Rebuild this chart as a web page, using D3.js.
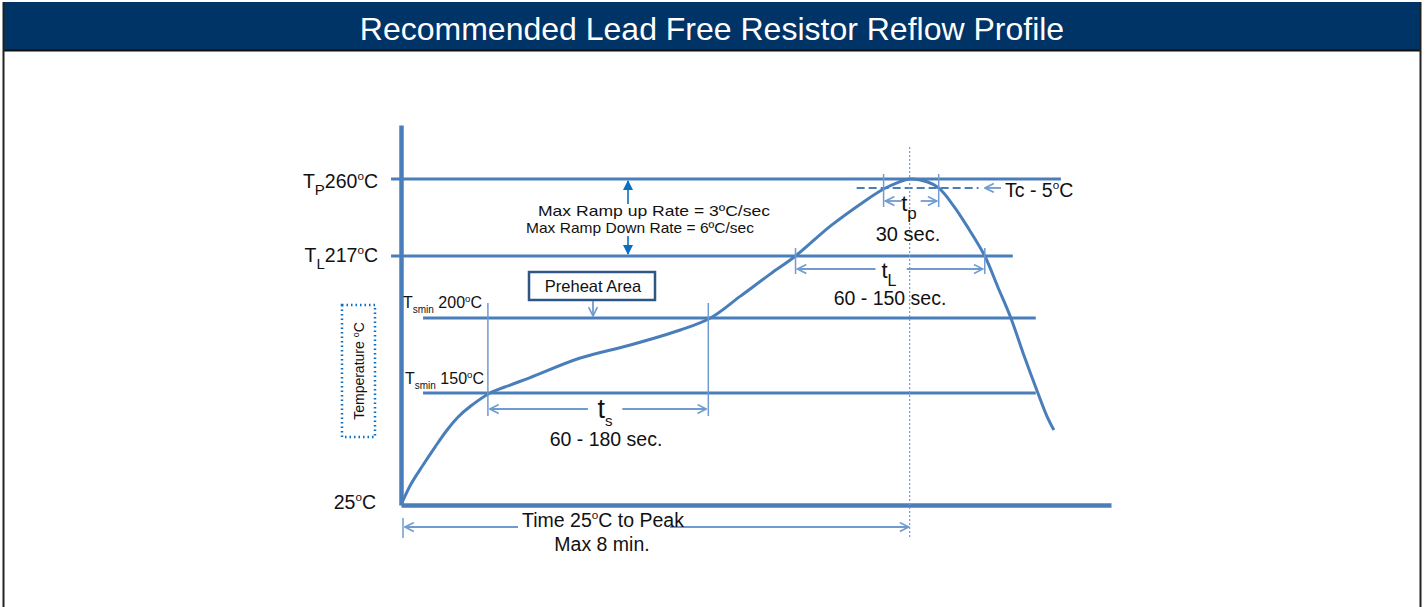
<!DOCTYPE html>
<html>
<head>
<meta charset="utf-8">
<script src="https://cdn.jsdelivr.net/npm/d3@7"></script>
<style>
  body { margin: 0; background: #fff; }
  svg { display: block; font-family: "Liberation Sans", Arial, sans-serif; }
</style>
</head>
<body>
<svg width="1425" height="607"></svg>
<script>
// reflow profile, time in seconds, temperature in °C (schematic)
const profileTime = [0, 9.45, 20.8, 32.1, 43.5, 53.9, 65.2, 84.1, 103, 121.9, 169.1, 216.4, 263.6, 292, 320.3, 348.7, 372.3, 405.4, 436.5, 455.4, 468.7, 480, 497, 507.4, 521.6, 535.8, 550.9, 563.2, 575.5, 587.7, 601, 609.5, 616.1];
const profileTemp = [25, 48.4, 69.6, 89.7, 108.7, 123.2, 134.9, 150, 155.3, 160.3, 173.3, 182, 192, 200, 206, 212.1, 217, 233.8, 247.2, 254.4, 258, 260, 258.3, 255, 244.9, 232.1, 217, 208.5, 200, 175.3, 150, 124.3, 108.7];

// temperature levels and the time span of each reference line
const levelTemps = [260, 217, 200, 150];
const levelStart = [-9.4, -9.4, 20.8, 20.8];
const levelEnd = [622.7, 577.3, 599, 599];

const tcTemp = 255;          // Tc - 5°C
const tcSpan = [430, 545];
const peakTime = 480;
const tsSpan = [82, 290];    // 150 -> 200
const tlSpan = [372.3, 550.9];
const tpSpan = [455.4, 507.4];

const margin = { left: 401, right: 1111 };
const svg = d3.select("svg");

// title bar and frame
svg.append("rect").attr("x", 3).attr("y", 2).attr("width", 1418).attr("height", 48).attr("fill", "#003366");
svg.append("line").attr("x1", 3).attr("x2", 1421).attr("y1", 50.5).attr("y2", 50.5).attr("stroke", "#111").attr("stroke-width", 2);
svg.append("line").attr("x1", 3.5).attr("x2", 3.5).attr("y1", 2).attr("y2", 607).attr("stroke", "#222").attr("stroke-width", 2);
svg.append("line").attr("x1", 1420.5).attr("x2", 1420.5).attr("y1", 2).attr("y2", 607).attr("stroke", "#222").attr("stroke-width", 2);
svg.append("text").attr("x", 712).attr("y", 40).attr("text-anchor", "middle")
  .attr("fill", "#fff").style("font-size", "32px").text("Recommended Lead Free Resistor Reflow Profile");

const x = d3.scaleLinear().domain([0, 670]).range([margin.left, margin.right]);
// schematic (not to scale) temperature axis
const y = d3.scaleLinear().domain([25, 150, 200, 217, 260, 290]).range([505, 393, 318, 256, 179, 125]);

const blue = "#4a7ebb";
const light = "#6f9bd1";

const defs = svg.append("defs");
defs.append("marker").attr("id", "chev").attr("viewBox", "0 0 10 10")
  .attr("refX", 9).attr("refY", 5).attr("markerWidth", 11).attr("markerHeight", 11)
  .attr("markerUnits", "userSpaceOnUse").attr("orient", "auto-start-reverse")
  .append("path").attr("d", "M1,1 L9,5 L1,9").attr("fill", "none").attr("stroke", light).attr("stroke-width", 1.5);
defs.append("marker").attr("id", "tri").attr("viewBox", "0 0 10 10")
  .attr("refX", 9).attr("refY", 5).attr("markerWidth", 10).attr("markerHeight", 10)
  .attr("markerUnits", "userSpaceOnUse").attr("orient", "auto")
  .append("path").attr("d", "M0,0 L10,5 L0,10 Z").attr("fill", "#0a6fc2");

// axes
svg.append("g").attr("transform", `translate(${margin.left},0)`)
  .call(d3.axisLeft(y).tickValues([]).tickSizeOuter(0))
  .select(".domain").attr("stroke", blue).attr("stroke-width", 4.5);
svg.append("g").attr("transform", `translate(0,${y(25)})`)
  .call(d3.axisBottom(x).tickValues([]).tickSizeOuter(0))
  .select(".domain").attr("stroke", blue).attr("stroke-width", 4.5);

// reference lines
svg.selectAll(".level").data(levelTemps).enter().append("line")
  .attr("class", "level")
  .attr("x1", (d, i) => x(levelStart[i])).attr("x2", (d, i) => x(levelEnd[i]))
  .attr("y1", d => y(d)).attr("y2", d => y(d))
  .attr("stroke", blue).attr("stroke-width", 3);

// Tc - 5 dashed line
svg.append("line").attr("x1", x(tcSpan[0])).attr("x2", x(tcSpan[1]))
  .attr("y1", y(tcTemp)).attr("y2", y(tcTemp))
  .attr("stroke", blue).attr("stroke-width", 2).attr("stroke-dasharray", "8,4");

// peak dotted line
svg.append("line").attr("x1", x(peakTime)).attr("x2", x(peakTime))
  .attr("y1", 147).attr("y2", 538)
  .attr("stroke", light).attr("stroke-width", 1.2).attr("stroke-dasharray", "2,2");

// profile curve
const pts = profileTime.map((t, i) => [t, profileTemp[i]]);
svg.append("path").datum(pts)
  .attr("d", d3.line().x(d => x(d[0])).y(d => y(d[1])).curve(d3.curveCatmullRom.alpha(0.5)))
  .attr("fill", "none").attr("stroke", blue).attr("stroke-width", 3);

// helpers
function vline(t, y1, y2) {
  svg.append("line").attr("x1", x(t)).attr("x2", x(t)).attr("y1", y1).attr("y2", y2)
    .attr("stroke", light).attr("stroke-width", 1.5);
}
function arrow(x1, y1, x2, y2, mk) {
  svg.append("line").attr("x1", x1).attr("y1", y1).attr("x2", x2).attr("y2", y2)
    .attr("stroke", mk === "tri" ? "#0a6fc2" : light).attr("stroke-width", mk === "tri" ? 1.6 : 1.8)
    .attr("marker-end", `url(#${mk})`);
}
function label(px, py, parts, size, anchor) {
  const t = svg.append("text").attr("x", px).attr("y", py).attr("text-anchor", anchor || "start")
    .attr("fill", "#111").style("font-size", size + "px");
  let shift = 0;
  parts.forEach(p => {
    const s = t.append("tspan").text(p.t);
    let target = 0;
    if (p.sub) { s.style("font-size", (p.fs || size * 0.75) + "px"); target = p.dy || size * 0.35; }
    if (p.sup) { s.style("font-size", (p.fs || size * 0.6) + "px"); target = -(p.dy || size * 0.4); }
    s.attr("dy", target - shift);
    shift = target;
  });
  return t;
}

// ts
vline(tsSpan[0], 303, 416); vline(tsSpan[1], 303, 416);
arrow(x(tsSpan[0]) + 100, 409, x(tsSpan[0]) + 2, 409, "chev");
arrow(x(tsSpan[1]) - 86, 409, x(tsSpan[1]) - 2, 409, "chev");
label(605, 418, [{ t: "t" }, { t: "s", sub: true, fs: 15, dy: 8 }], 27, "middle");
label(606, 446, [{ t: "60 - 180 sec." }], 19.5, "middle");

// tL
vline(tlSpan[0], 248, 274); vline(tlSpan[1], 248, 274);
arrow(x(tlSpan[0]) + 80, 269, x(tlSpan[0]) + 2, 269, "chev");
arrow(x(tlSpan[1]) - 78, 269, x(tlSpan[1]) - 2, 269, "chev");
label(889, 278, [{ t: "t" }, { t: "L", sub: true, fs: 16, dy: 8 }], 22, "middle");
label(890, 305, [{ t: "60 - 150 sec." }], 19.5, "middle");

// tp
vline(tpSpan[0], 174, 207); vline(tpSpan[1], 174, 207);
arrow(x(tpSpan[0]) + 18, 201, x(tpSpan[0]) + 2, 201, "chev");
arrow(x(tpSpan[1]) - 18, 201, x(tpSpan[1]) - 2, 201, "chev");
label(909, 211, [{ t: "t" }, { t: "p", sub: true, fs: 17, dy: 8 }], 22, "middle");
label(908, 241, [{ t: "30 sec." }], 20, "middle");

// Tc - 5
arrow(1001, y(tcTemp), 985, y(tcTemp), "chev");
label(1005, 197, [{ t: "Tc - 5" }, { t: "o", sup: true }, { t: "C" }], 19.5);

// ramp rate
arrow(628, 204, 628, 181, "tri");
arrow(628, 236, 628, 254, "tri");
label(654, 216, [{ t: "Max Ramp up Rate = 3ºC/sec" }], 15, "middle").attr("textLength", 232).attr("lengthAdjust", "spacingAndGlyphs");
label(640, 233, [{ t: "Max Ramp Down Rate = 6ºC/sec" }], 15, "middle").attr("textLength", 228).attr("lengthAdjust", "spacingAndGlyphs");

// preheat box
svg.append("rect").attr("x", 529).attr("y", 272).attr("width", 126).attr("height", 28)
  .attr("fill", "#fff").attr("stroke", "#2f5585").attr("stroke-width", 2.5);
label(593, 292, [{ t: "Preheat Area" }], 16.5, "middle");
arrow(593, 301, 593, y(200) - 2, "chev");

// time to peak
svg.append("line").attr("x1", 403).attr("x2", 403).attr("y1", 518).attr("y2", 538).attr("stroke", light).attr("stroke-width", 1.5);
arrow(518, 527, 405, 527, "chev");
arrow(670, 527, x(peakTime) - 1, 527, "chev");
label(603, 527, [{ t: "Time 25" }, { t: "o", sup: true }, { t: "C to Peak" }], 19.5, "middle");
label(602, 551, [{ t: "Max 8 min." }], 19.5, "middle");

// temperature labels
label(378, 188, [{ t: "T" }, { t: "P", sub: true, fs: 15, dy: 7 }, { t: "260" }, { t: "o", sup: true }, { t: "C" }], 19.5, "end");
label(378, 262, [{ t: "T" }, { t: "L", sub: true, fs: 15, dy: 7 }, { t: "217" }, { t: "o", sup: true }, { t: "C" }], 19.5, "end");
label(403, 308, [{ t: "T" }, { t: "smin", sub: true, fs: 10, dy: 5 }, { t: " 200" }, { t: "o", sup: true }, { t: "C" }], 16);
label(405, 384, [{ t: "T" }, { t: "smin", sub: true, fs: 10, dy: 5 }, { t: " 150" }, { t: "o", sup: true }, { t: "C" }], 16);
label(376, 509, [{ t: "25" }, { t: "o", sup: true }, { t: "C" }], 19.5, "end");

// axis title with dotted box
svg.append("rect").attr("x", 342).attr("y", 305).attr("width", 33).attr("height", 132)
  .attr("fill", "none").attr("stroke", "#0a6fc2").attr("stroke-width", 2.5).attr("stroke-dasharray", "1.5,3");
svg.append("text").attr("transform", "translate(364,371) rotate(-90)").attr("text-anchor", "middle")
  .attr("fill", "#111").style("font-size", "14px")
  .call(t => { t.append("tspan").text("Temperature "); t.append("tspan").text("o").style("font-size", "9px").attr("dy", -5); t.append("tspan").text("C").attr("dy", 5); });
</script>
</body>
</html>
